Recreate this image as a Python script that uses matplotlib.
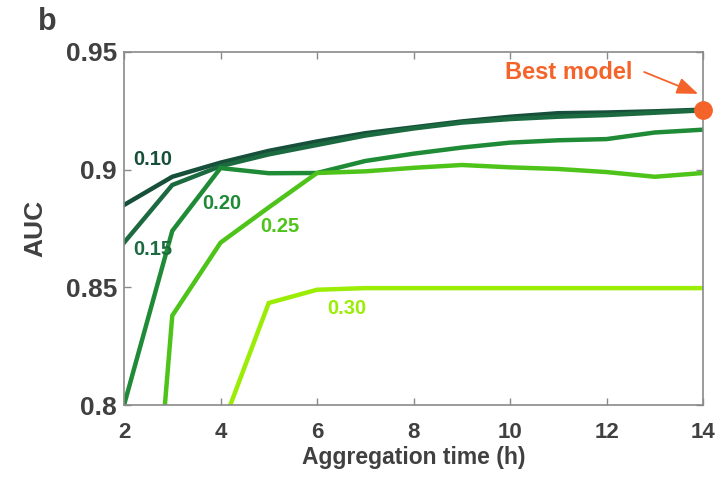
import numpy as np
import matplotlib.pyplot as plt

plt.rcParams['font.family'] = ['Liberation Sans', 'DejaVu Sans']
plt.rcParams['font.weight'] = 'bold'

hours = [2, 3, 4, 5, 6, 7, 8, 9, 10, 11, 12, 13, 14]

auc_010 = [0.885, 0.897, 0.903, 0.908, 0.912, 0.9155, 0.918, 0.9205, 0.9225, 0.924, 0.9243, 0.9248, 0.9255]
auc_015 = [0.869, 0.8935, 0.9015, 0.9065, 0.9105, 0.9145, 0.9175, 0.920, 0.9215, 0.9225, 0.9232, 0.9242, 0.9252]
auc_020 = [0.800, 0.874, 0.9007, 0.8985, 0.8986, 0.9037, 0.9068, 0.9094, 0.9115, 0.9125, 0.913, 0.9158, 0.917]
auc_025 = [0.590, 0.838, 0.869, 0.884, 0.8986, 0.8993, 0.9008, 0.902, 0.901, 0.9003, 0.899, 0.897, 0.8986]
auc_030 = [np.nan, np.nan, 0.789, 0.8434, 0.849, 0.8497, 0.8497, 0.8497, 0.8497, 0.8497, 0.8497, 0.8497, 0.8497]

thresholds = ['0.10', '0.15', '0.20', '0.25', '0.30']
series = [auc_010, auc_015, auc_020, auc_025, auc_030]
colors = ['#17503a', '#1c6b40', '#1f8b36', '#4ec41a', '#9bed05']

best_x, best_auc = 14, 0.9255

text_gray = '#404040'
orange = '#f4632a'

fig = plt.figure(figsize=(7.24, 4.8), dpi=100)
ax = fig.add_axes([0.1713, 0.156, 0.7997, 0.7357])

for vals, c in zip(series, colors):
    ax.plot(hours, vals, color=c, lw=3.2, solid_joinstyle='miter')

# inline labels for each threshold
label_pos = [(2.6, 0.9045), (2.6, 0.8659), (4.03, 0.8858), (5.23, 0.8757), (6.62, 0.8412)]
for (lx, ly), t, c in zip(label_pos, thresholds, colors):
    ax.text(lx, ly, t, color=c, fontsize=14.5, fontweight='bold', ha='center', va='center')

ax.plot(best_x, best_auc, 'o', color=orange, ms=12.5, clip_on=False, zorder=5)
ax.text(11.22, 0.9411, 'Best model', color=orange, fontsize=17, fontweight='bold',
        ha='center', va='center')
ax.annotate('', xy=(13.9, 0.9322), xytext=(12.78, 0.9415),
            arrowprops=dict(arrowstyle='-|>,head_length=1.3,head_width=0.5',
                            color=orange, lw=1.3, shrinkA=0, shrinkB=0),
            annotation_clip=False)

ax.set_xlim(2, 14)
ax.set_ylim(0.8, 0.95)
ax.set_xticks([2, 4, 6, 8, 10, 12, 14])
ax.set_yticks([0.8, 0.85, 0.9, 0.95])
ax.set_yticklabels(['0.8', '0.85', '0.9', '0.95'])

for s in ax.spines.values():
    s.set_color('#8a8a8a')
    s.set_linewidth(1.2)
ax.tick_params(direction='in', top=True, right=True, length=5, width=1, color='#8a8a8a',
               labelcolor=text_gray)
ax.tick_params(axis='x', labelsize=16, pad=12)
ax.tick_params(axis='y', labelsize=19, pad=5)
for lab in ax.get_xticklabels() + ax.get_yticklabels():
    lab.set_fontweight('bold')

ax.set_xlabel('Aggregation time (h)', fontsize=16.5, fontweight='bold', color=text_gray, labelpad=2)
ax.set_ylabel('AUC', fontsize=19, fontweight='bold', color=text_gray, labelpad=13)

fig.text(0.065, 0.955, 'b', fontsize=22, fontweight='bold', color=text_gray, ha='center', va='center')

fig.savefig('out.png', dpi=100)
